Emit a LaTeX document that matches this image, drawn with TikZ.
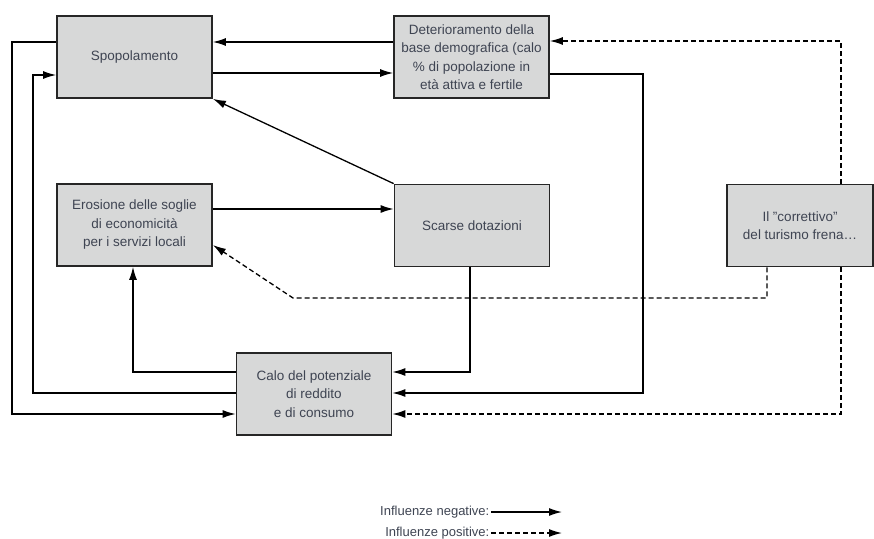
\documentclass[tikz,border=0pt]{standalone}
\usepackage{fontspec}
\setmainfont{Liberation Sans}
\usetikzlibrary{arrows.meta}
\definecolor{boxgray}{HTML}{D7D8D8}
\definecolor{txtgray}{HTML}{3E4452}
\begin{document}
\begin{tikzpicture}[x=1pt,y=-1pt,>={Latex[length=13pt,width=8pt]},line width=1.3pt,
    blocco/.style={draw=black!85,fill=boxgray,line width=1.8pt,minimum width=155pt,
        minimum height=82pt,inner sep=1pt,align=center,text=txtgray,
        font=\fontsize{13.5}{18.5}\selectfont},
    positiva/.style={dash pattern=on 5pt off 3pt},
    legenda/.style={anchor=east,text=txtgray,inner sep=1pt,font=\fontsize{13}{14}\selectfont}]
    \useasboundingbox (0,0) rectangle (874,538);
    % blocchi
    \node[blocco] (spop) at (134.5,57) {Spopolamento};
    \node[blocco] (det) at (471.5,57) {Deterioramento della\\base demografica (calo\\\% di popolazione in\\età attiva e fertile};
    \node[blocco] (eros) at (134.5,225) {Erosione delle soglie\\di economicità\\per i servizi locali};
    \node[blocco] (scarse) at (472,225.5) {Scarse dotazioni};
    \node[blocco,minimum width=146pt] (corr) at (800,225.5) {Il "correttivo"\\del turismo frena\dots};
    \node[blocco] (calo) at (314,394) {Calo del potenziale\\di reddito\\e di consumo};
    % influenze negative
    \draw[->] (det.west |- 0,42) -- (spop.east |- 0,42);
    \draw[->] (spop.east |- 0,73) -- (det.west |- 0,73);
    \draw[->] (scarse.north west) -- (spop.south east);
    \draw[->] (eros.east |- 0,209) -- (scarse.west |- 0,209);
    \draw[->] (scarse.south -| 470,0) |- (calo.east |- 0,372);
    \draw[->] (det.east |- 0,74) -| (643,393) -- (calo.east |- 0,393);
    \draw[->] (calo.west |- 0,372) -| (eros.south -| 133,0);
    \draw[->] (calo.west |- 0,393) -| (33,75) -- (spop.west |- 0,75);
    \draw[->] (spop.west |- 0,42) -| (12,414) -- (calo.west |- 0,414);
    % influenze positive
    \draw[->,positiva] (corr.north -| 841,0) |- (det.east |- 0,41);
    \draw[->,positiva] (corr.south -| 767,0) |- (293,298) -- (eros.east |- 0,245);
    \draw[->,positiva] (corr.south -| 841,0) |- (calo.east |- 0,414);
    % legenda
    \node[legenda] (neg) at (491,512) {Influenze negative:};
    \draw[->] (neg.east) -- ++(71,0);
    \node[legenda] (posit) at (491,533) {Influenze positive:};
    \draw[->,positiva] (posit.east) -- ++(71,0);
\end{tikzpicture}
\end{document}
